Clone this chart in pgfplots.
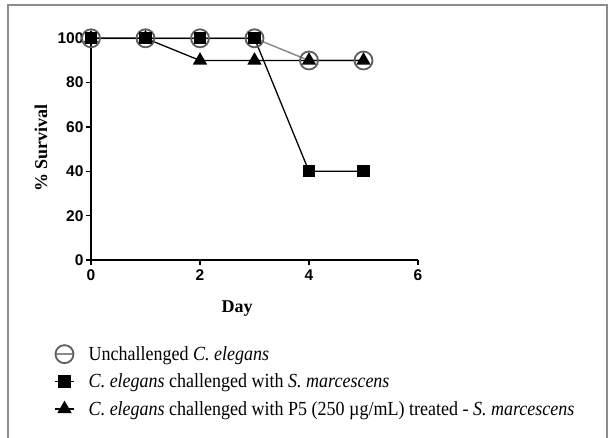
\documentclass[border=0pt]{standalone}
\usepackage{fontspec}
\setmainfont{Liberation Serif}
\newfontfamily\arial{Liberation Sans}
\newfontfamily\legfont[FakeStretch=0.9]{Liberation Serif}
\usepackage{pgfplots}
\pgfplotsset{compat=1.18}
\definecolor{ringgray}{HTML}{5E5E5E}
\definecolor{linegray}{HTML}{8A8A8A}
\definecolor{framegray}{HTML}{8C8C8C}

\begin{document}
\begin{tikzpicture}
\useasboundingbox (-91pt,-177pt) rectangle (522pt,260pt);
\draw[framegray, line width=1.5pt] (-83pt,-180pt) -- (-83pt,255pt) -- (516pt,255pt) -- (516pt,-180pt);
\begin{axis}[
    scale only axis,
    width=327pt, height=221.7pt,
    xmin=0, xmax=6, ymin=0, ymax=100,
    clip=false,
    axis lines=left,
    axis line style={-, line width=1.6pt},
    xtick={0,2,4,6}, ytick={0,20,...,100},
    tick align=outside,
    major tick length=5pt,
    tick style={line width=1.6pt, black},
    /pgf/number format/assume math mode=true,
    ticklabel style={font=\arial\bfseries\fontsize{15.5}{17}\selectfont},
    xticklabel style={yshift=-1pt},
    yticklabel style={xshift=1pt},
    xlabel={Day}, ylabel={\% Survival},
    label style={font=\bfseries\fontsize{18}{20}\selectfont},
    x label style={at={(axis description cs:0.447,-0.221)}, anchor=center},
    y label style={at={(axis description cs:-0.153,0.505)}, anchor=center},
    legend style={at={(axis description cs:-0.113,-0.38)}, anchor=north west,
        draw=none, fill=none, inner sep=0pt, row sep=8pt,
        font=\legfont\fontsize{20}{22}\selectfont,
        /tikz/every odd column/.append style={column sep=12pt}},
    legend cell align=left,
    legend image code/.code={\draw[mark repeat=2,mark phase=2,#1]
        plot coordinates {(0pt,0pt) (9.5pt,0pt) (19pt,0pt)};},
]
% unchallenged
\addplot[linegray, line width=1.5pt, mark=o, mark size=9pt,
    mark options={draw=ringgray, line width=1.8pt}]
    coordinates {(0,100) (1,100) (2,100) (3,100) (4,90) (5,90)};
\addlegendentry{Unchallenged \textit{C. elegans}}
% P5 treated
\addplot[black, line width=1.3pt, mark=triangle*, mark size=7pt, forget plot]
    coordinates {(0,100) (1,100) (2,90) (3,90) (4,90) (5,90)};
% challenged
\addplot[black, line width=1.3pt, mark=square*, mark size=5.5pt]
    coordinates {(0,100) (1,100) (2,100) (3,100) (4,40) (5,40)};
\addlegendentry{\textit{C. elegans} challenged with \textit{S. marcescens}}
\addlegendimage{black, line width=1.3pt, mark=triangle*, mark size=7pt}
\addlegendentry{\textit{C. elegans} challenged with P5 (250 µg/mL) treated - \textit{S. marcescens}}
\end{axis}
\end{tikzpicture}
\end{document}
